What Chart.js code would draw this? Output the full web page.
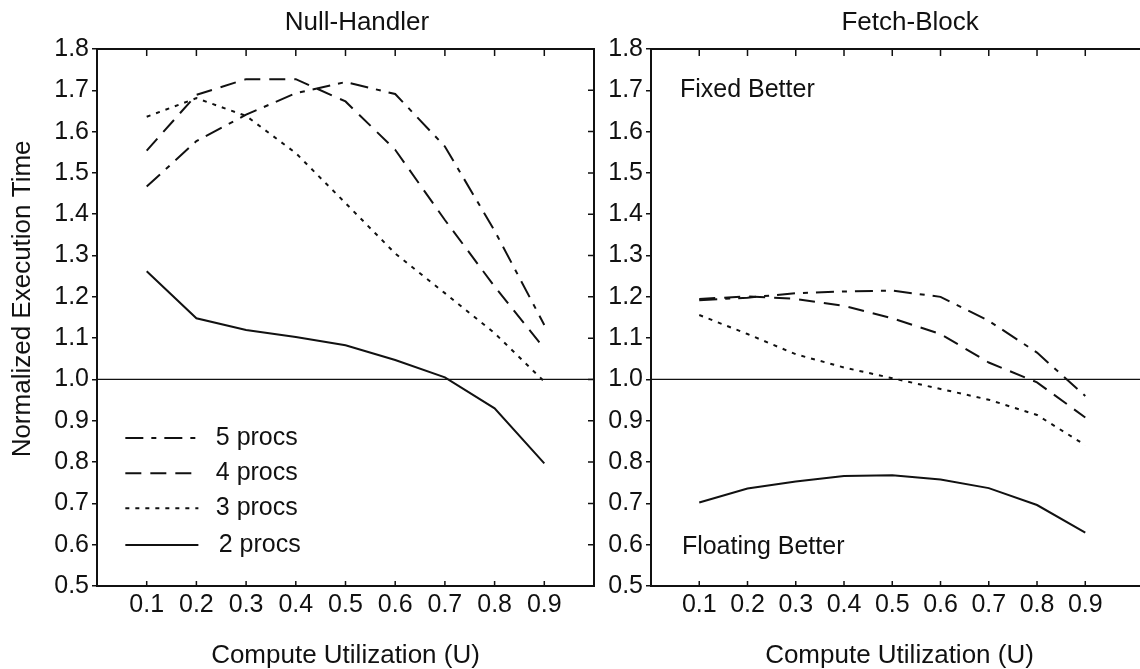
<!DOCTYPE html>
<html>
<head>
<meta charset="utf-8">
<script src="https://cdn.jsdelivr.net/npm/chart.js@4.4.1/dist/chart.umd.min.js"></script>
<style>
html, body { margin: 0; padding: 0; background: #fff; overflow: hidden; width: 1140px; height: 669px; }
#left { position: absolute; left: 0; top: 0; }
#right { position: absolute; left: 600px; top: 0; }
</style>
</head>
<body>
<canvas id="left" width="600" height="669"></canvas>
<canvas id="right" width="560" height="669"></canvas>
<script>
// ---------- data ----------
const xValues = [0.1, 0.2, 0.3, 0.4, 0.5, 0.6, 0.7, 0.8, 0.9];
const xTickLabels = ['0.1', '0.2', '0.3', '0.4', '0.5', '0.6', '0.7', '0.8', '0.9'];
const yTicks = [0.5, 0.6, 0.7, 0.8, 0.9, 1.0, 1.1, 1.2, 1.3, 1.4, 1.5, 1.6, 1.7, 1.8];
const yTickLabels = ['0.5', '0.6', '0.7', '0.8', '0.9', '1.0', '1.1', '1.2', '1.3', '1.4', '1.5', '1.6', '1.7', '1.8'];
const seriesLabels = ['5 procs', '4 procs', '3 procs', '2 procs'];

const nullHandler5 = [1.467, 1.577, 1.641, 1.693, 1.720, 1.691, 1.564, 1.360, 1.132];
const nullHandler4 = [1.554, 1.689, 1.727, 1.727, 1.673, 1.556, 1.386, 1.225, 1.075];
const nullHandler3 = [1.636, 1.681, 1.638, 1.548, 1.427, 1.305, 1.209, 1.112, 0.995];
const nullHandler2 = [1.262, 1.148, 1.120, 1.103, 1.083, 1.047, 1.005, 0.930, 0.797];

const fetchBlock5 = [1.192, 1.198, 1.209, 1.213, 1.215, 1.200, 1.142, 1.065, 0.960];
const fetchBlock4 = [1.195, 1.201, 1.195, 1.178, 1.148, 1.110, 1.041, 0.993, 0.908];
const fetchBlock3 = [1.156, 1.110, 1.061, 1.029, 1.003, 0.977, 0.951, 0.914, 0.841];
const fetchBlock2 = [0.702, 0.736, 0.753, 0.766, 0.768, 0.758, 0.737, 0.696, 0.629];

const referenceValue = 1.0;
const legendRowValues = [0.858, 0.773, 0.688, 0.599];

// ---------- styles ----------
const FONT = "'Liberation Sans', Arial, Helvetica, sans-serif";
const INK = '#111';
const seriesDash = [[18, 8, 5, 8], [16, 9], [4, 6], []];
Chart.defaults.font.family = FONT;
Chart.defaults.color = INK;

function buildDatasets(seriesList) {
  return seriesList.map((arr, i) => ({
    label: seriesLabels[i],
    data: xValues.map((x, j) => ({ x: x, y: arr[j] })),
    borderColor: INK,
    borderWidth: 2,
    borderDash: seriesDash[i],
    pointRadius: 0,
    fill: false,
    tension: 0
  }));
}

const decorPlugin = {
  id: 'decor',
  beforeDatasetsDraw(chart, args, o) {
    const { ctx, chartArea: a, scales: { y } } = chart;
    const yy = y.getPixelForValue(referenceValue);
    ctx.save();
    ctx.strokeStyle = INK;
    ctx.lineWidth = 1.3;
    ctx.beginPath();
    ctx.moveTo(a.left, yy);
    ctx.lineTo(a.right, yy);
    ctx.stroke();
    ctx.restore();
  },
  afterDraw(chart, args, o) {
    const { ctx, chartArea: a, scales: { x, y } } = chart;
    ctx.save();
    ctx.strokeStyle = INK;
    ctx.fillStyle = INK;
    // frame
    ctx.lineWidth = 2;
    ctx.strokeRect(a.left, a.top, a.right - a.left, a.bottom - a.top);
    // inward ticks
    ctx.lineWidth = 1.5;
    ctx.beginPath();
    xValues.forEach(v => {
      const px = x.getPixelForValue(v);
      ctx.moveTo(px, a.top); ctx.lineTo(px, a.top + 7);
      ctx.moveTo(px, a.bottom); ctx.lineTo(px, a.bottom - 5);
    });
    yTicks.forEach(v => {
      const py = y.getPixelForValue(v);
      ctx.moveTo(a.right, py); ctx.lineTo(a.right - 6, py);
    });
    ctx.stroke();
    // chart title
    ctx.font = '26px ' + FONT;
    ctx.textAlign = 'center';
    ctx.textBaseline = 'middle';
    ctx.fillText(o.title, x.getPixelForValue(o.titleX), a.top - 26);
    // y-axis title
    if (o.yTitle) {
      ctx.save();
      ctx.translate(23, y.getPixelForValue(o.yTitleCenter));
      ctx.rotate(-Math.PI / 2);
      ctx.fillText(o.yTitle, 0, 0);
      ctx.restore();
    }
    // annotations
    ctx.font = '25px ' + FONT;
    ctx.textAlign = 'left';
    (o.notes || []).forEach(n => {
      ctx.fillText(n.text, x.getPixelForValue(n.x), y.getPixelForValue(n.y));
    });
    // legend
    if (o.legend) {
      chart.data.datasets.forEach((ds, i) => {
        const py = y.getPixelForValue(legendRowValues[i]);
        ctx.save();
        ctx.lineWidth = 2;
        ctx.setLineDash(ds.borderDash);
        ctx.beginPath();
        ctx.moveTo(x.getPixelForValue(0.057), py);
        ctx.lineTo(x.getPixelForValue(0.204), py);
        ctx.stroke();
        ctx.restore();
        ctx.fillText(ds.label, x.getPixelForValue(i === 3 ? 0.245 : 0.239), py);
      });
    }
    ctx.restore();
  }
};

function makeChart(id, seriesList, xMax, yWidth, padRight, decor) {
  return new Chart(document.getElementById(id), {
    type: 'line',
    data: { datasets: buildDatasets(seriesList) },
    plugins: [decorPlugin],
    options: {
      responsive: false,
      animation: false,
      devicePixelRatio: 1,
      layout: { padding: { top: 49, right: padRight, bottom: 0, left: 0 } },
      plugins: {
        legend: { display: false },
        tooltip: { enabled: false },
        title: { display: false },
        decor: decor
      },
      scales: {
        x: {
          type: 'linear',
          min: 0,
          max: xMax,
          afterBuildTicks: s => { s.ticks = xValues.map(v => ({ value: v })); },
          afterFit: s => { s.height = 83; },
          ticks: {
            autoSkip: false,
            maxRotation: 0,
            padding: 4,
            font: { size: 25, lineHeight: 1.2 },
            color: INK,
            callback: (v, i) => xTickLabels[i]
          },
          grid: { display: false, drawTicks: false },
          border: { display: false },
          title: {
            display: true,
            text: 'Compute Utilization (U)',
            font: { size: 26, lineHeight: 1 },
            color: INK,
            padding: { top: 0, bottom: 0 }
          }
        },
        y: {
          min: 0.5,
          max: 1.8,
          afterBuildTicks: s => { s.ticks = yTicks.map(v => ({ value: v })); },
          afterFit: s => { s.width = yWidth; },
          ticks: {
            autoSkip: false,
            padding: 3,
            font: { size: 25, lineHeight: 1.2 },
            color: INK,
            callback: (v, i) => yTickLabels[i]
          },
          grid: { display: true, drawOnChartArea: false, drawTicks: true, tickLength: 5, color: INK, lineWidth: 1.5 },
          border: { display: false }
        }
      }
    }
  });
}

makeChart('left', [nullHandler5, nullHandler4, nullHandler3, nullHandler2], 1.0, 97, 6, {
  title: 'Null-Handler',
  titleX: 0.523,
  yTitle: 'Normalized Execution Time',
  yTitleCenter: 1.195,
  legend: true,
  notes: []
});

makeChart('right', [fetchBlock5, fetchBlock4, fetchBlock3, fetchBlock2], 1.03, 51, 12, {
  title: 'Fetch-Block',
  titleX: 0.537,
  legend: false,
  notes: [
    { text: 'Fixed Better', x: 0.06, y: 1.7 },
    { text: 'Floating Better', x: 0.064, y: 0.595 }
  ]
});
</script>
</body>
</html>
